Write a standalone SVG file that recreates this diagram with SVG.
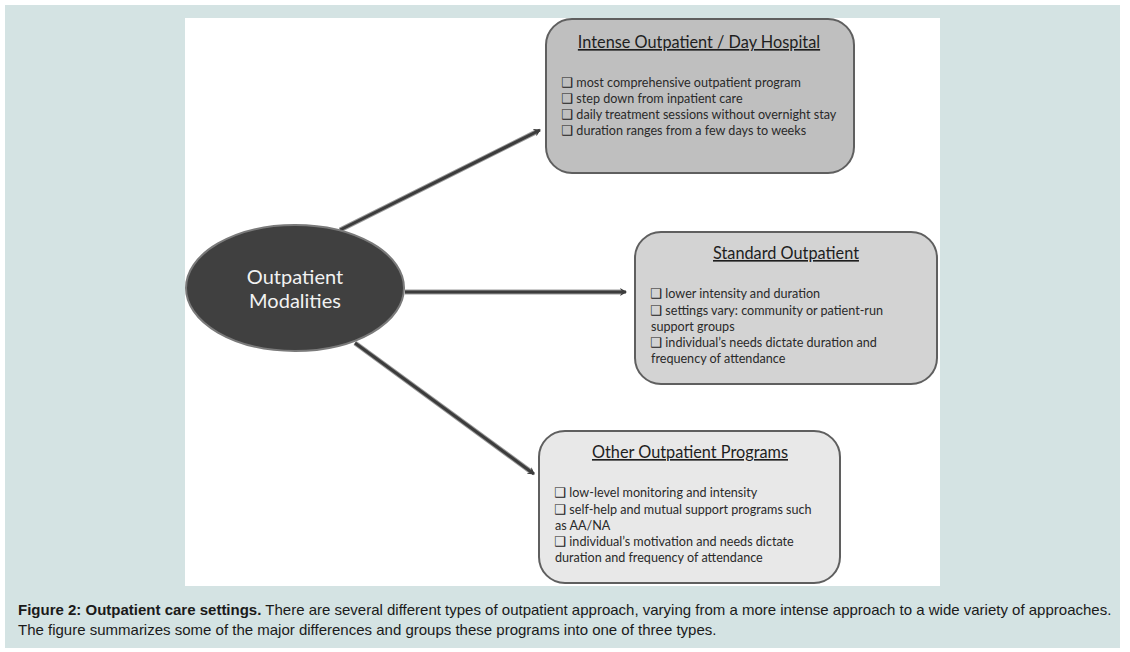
<svg xmlns="http://www.w3.org/2000/svg" width="1130" height="652" viewBox="0 0 1130 652">
<defs>
<style>
.box{stroke:#5f5f5f;stroke-width:2}
.title{font-family:Lato,"Open Sans",sans-serif;font-size:16.3px;fill:#1e1e1e;text-anchor:middle;text-decoration:underline}
.item{font-family:Lato,"Open Sans",sans-serif;font-size:12.6px;fill:#2a2a2a}
.cb{font-family:"DejaVu Sans",sans-serif;font-size:13.5px;font-weight:bold;fill:#222}
.conn{stroke:#9a9a9a;stroke-width:5;fill:none}
.conn2{stroke:#3c3c3c;stroke-width:3;fill:none}
.cap{font-family:"Liberation Sans",Arial,sans-serif;font-size:15px;fill:#1a1a1a}
</style>
<marker id="ah" markerWidth="8" markerHeight="8" refX="6" refY="4" orient="auto" markerUnits="userSpaceOnUse" viewBox="0 0 8 8">
<path d="M0,0 L7,4 L0,8 L2,4 Z" fill="#3c3c3c"/>
</marker>
</defs>
<rect x="0" y="0" width="1130" height="652" fill="#ffffff"/>
<rect x="5" y="5" width="1115" height="643" fill="#d4e3e3"/>
<rect x="185" y="18" width="755" height="568" fill="#ffffff"/>

<g id="connectors">
<line class="conn" x1="340" y1="230" x2="536" y2="132"/>
<line class="conn2" x1="340" y1="230" x2="540" y2="130" marker-end="url(#ah)"/>
<line class="conn" x1="405" y1="292" x2="621" y2="292"/>
<line class="conn2" x1="405" y1="292" x2="626" y2="292" marker-end="url(#ah)"/>
<line class="conn" x1="355" y1="343" x2="530" y2="471"/>
<line class="conn2" x1="355" y1="343" x2="534" y2="474" marker-end="url(#ah)"/>
</g>

<g id="center">
<ellipse cx="295" cy="288" rx="109" ry="63" fill="#404040" stroke="#7a7a7a" stroke-width="2"/>
<text x="295" y="284" font-family="Lato,'Open Sans',sans-serif" font-size="20" fill="#f2f2f2" text-anchor="middle">Outpatient</text>
<text x="295" y="308" font-family="Lato,'Open Sans',sans-serif" font-size="20" fill="#f2f2f2" text-anchor="middle">Modalities</text>
</g>

<g id="intense">
<rect class="box" x="546" y="19" width="308" height="154" rx="26" fill="#bfbfbf"/>
<text class="title" x="699" y="48">Intense Outpatient / Day Hospital</text>
<text class="item" x="561" y="87"><tspan class="cb">❑</tspan> most comprehensive outpatient program</text>
<text class="item" x="561" y="103"><tspan class="cb">❑</tspan> step down from inpatient care</text>
<text class="item" x="561" y="119"><tspan class="cb">❑</tspan> daily treatment sessions without overnight stay</text>
<text class="item" x="561" y="135"><tspan class="cb">❑</tspan> duration ranges from a few days to weeks</text>
</g>

<g id="standard">
<rect class="box" x="635" y="232" width="302" height="152" rx="26" fill="#d3d3d3"/>
<text class="title" x="786" y="259">Standard Outpatient</text>
<text class="item" x="650" y="298"><tspan class="cb">❑</tspan> lower intensity and duration</text>
<text class="item" x="650" y="315"><tspan class="cb">❑</tspan> settings vary: community or patient-run</text>
<text class="item" x="651" y="331">support groups</text>
<text class="item" x="650" y="347"><tspan class="cb">❑</tspan> individual’s needs dictate duration and</text>
<text class="item" x="651" y="363">frequency of attendance</text>
</g>

<g id="other">
<rect class="box" x="539" y="431" width="301" height="152" rx="26" fill="#e8e8e8"/>
<text class="title" x="690" y="458">Other Outpatient Programs</text>
<text class="item" x="554" y="497"><tspan class="cb">❑</tspan>  low-level monitoring and intensity</text>
<text class="item" x="554" y="514"><tspan class="cb">❑</tspan>  self-help and mutual support programs such</text>
<text class="item" x="555" y="530">as AA/NA</text>
<text class="item" x="554" y="546"><tspan class="cb">❑</tspan>  individual’s motivation and needs dictate</text>
<text class="item" x="555" y="562">duration and frequency of attendance</text>
</g>

<g id="caption">
<text class="cap" x="18" y="615"><tspan font-weight="bold">Figure 2: Outpatient care settings.</tspan> There are several different types of outpatient approach, varying from a more intense approach to a wide variety of approaches.</text>
<text class="cap" x="18" y="635">The figure summarizes some of the major differences and groups these programs into one of three types.</text>
</g>
</svg>
